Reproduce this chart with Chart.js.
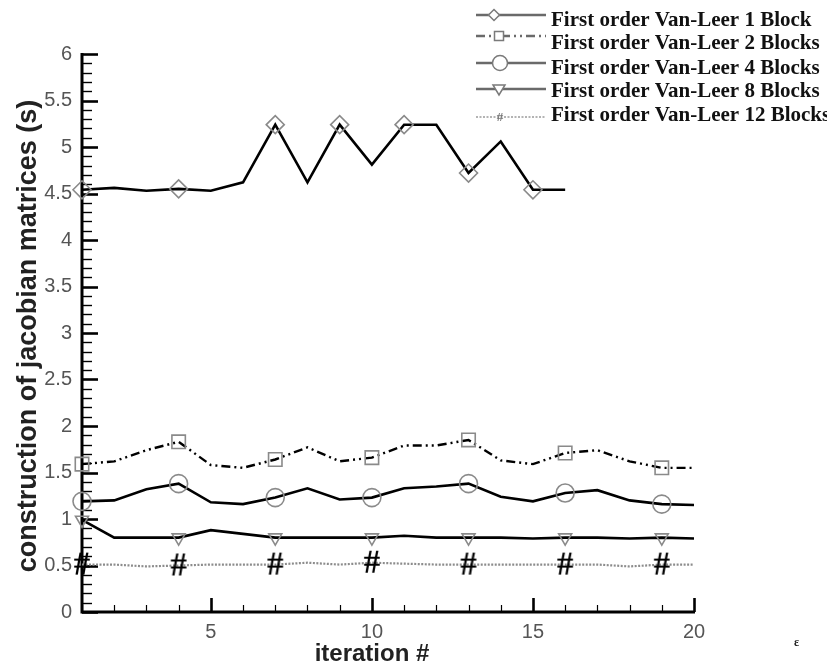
<!DOCTYPE html>
<html><head><meta charset="utf-8">
<script src="https://cdn.jsdelivr.net/npm/chart.js@4/dist/chart.umd.min.js"></script>
<style>html,body{margin:0;padding:0;background:#fff}#wrap{width:827px;height:665px;position:relative}</style>
</head><body><div id="wrap"><canvas id="c" width="827" height="665"></canvas></div>
<script>
// ---- data ----
const iterations = [1,2,3,4,5,6,7,8,9,10,11,12,13,14,15,16,17,18,19,20];
const seriesNames = [
  'First order Van-Leer 1 Block',
  'First order Van-Leer 2 Blocks',
  'First order Van-Leer 4 Blocks',
  'First order Van-Leer 8 Blocks',
  'First order Van-Leer 12 Blocks'
];
const block1  = [4.54,4.56,4.53,4.55,4.53,4.62,5.24,4.62,5.24,4.81,5.24,5.24,4.72,5.06,4.54,4.54];
const block2  = [1.59,1.62,1.74,1.83,1.58,1.55,1.64,1.77,1.62,1.66,1.79,1.79,1.85,1.63,1.59,1.71,1.74,1.62,1.55,1.55];
const block4  = [1.19,1.20,1.32,1.38,1.18,1.16,1.23,1.33,1.21,1.23,1.33,1.35,1.38,1.24,1.19,1.28,1.31,1.20,1.16,1.15];
const block8  = [0.99,0.80,0.80,0.80,0.88,0.84,0.80,0.80,0.80,0.80,0.82,0.80,0.80,0.80,0.79,0.80,0.80,0.79,0.80,0.79];
const block12 = [0.51,0.51,0.49,0.50,0.51,0.51,0.51,0.53,0.51,0.53,0.52,0.51,0.51,0.51,0.51,0.51,0.51,0.49,0.51,0.51];
const markers1Block = [1,4,7,9,11,13,15];
const markersOther  = [1,4,7,10,13,16,19];
const xTicks = [5,10,15,20];
const yTicks = [0,0.5,1,1.5,2,2.5,3,3.5,4,4.5,5,5.5,6];
const xTitle = 'iteration #';
const yTitle = 'construction of jacobian matrices (s)';

// ---- helpers ----
const toPts = arr => arr.map((v,i)=>({x: iterations[i], y: v}));
const markerRadius = (list, r) => ctx => list.includes(iterations[ctx.dataIndex]) ? r : 0;

// '#' marker image
function hashImage(size, color){
  const c = document.createElement('canvas');
  c.width = Math.round(size*0.62); c.height = Math.round(size*0.8);
  const g = c.getContext('2d');
  g.fillStyle = color;
  g.font = 'bold ' + size + 'px "Liberation Serif", "Times New Roman", serif';
  g.textAlign = 'center'; g.textBaseline = 'middle';
  g.fillText('#', c.width/2, c.height/2 + size*0.04);
  return c;
}
const hashImg = hashImage(33, '#000');
const hashImgSmall = hashImage(13, '#777');

const MK = '#8a8a8a';
const base = {fill:false, tension:0, clip:false, pointBorderColor:MK, pointBackgroundColor:'rgba(0,0,0,0)', pointBorderWidth:1.6, pointHoverRadius:0};

const datasets = [
  Object.assign({}, base, {label:seriesNames[0], data:toPts(block1), borderColor:'#000', borderWidth:2.6,
    pointStyle:'rectRot', pointRadius:markerRadius(markers1Block, 9)}),
  Object.assign({}, base, {label:seriesNames[1], data:toPts(block2), borderColor:'#000', borderWidth:2.4,
    borderDash:[9,4,2,4,2,4], pointStyle:'rect', pointRadius:markerRadius(markersOther, 9.5)}),
  Object.assign({}, base, {label:seriesNames[2], data:toPts(block4), borderColor:'#000', borderWidth:2.6,
    pointStyle:'circle', pointRadius:markerRadius(markersOther, 9)}),
  Object.assign({}, base, {label:seriesNames[3], data:toPts(block8), borderColor:'#000', borderWidth:2.6,
    pointStyle:'triangle', pointRotation:180, pointRadius:markerRadius(markersOther, 7.5)}),
  Object.assign({}, base, {label:seriesNames[4], data:toPts(block12), borderColor:'#8c8c8c', borderWidth:2.2,
    borderDash:[2,1.5], pointStyle:hashImg, pointRadius:markerRadius(markersOther, 10)})
];

// axis + inward ticks
const axesPlugin = {
  id:'axesPlugin',
  beforeDatasetsDraw(chart){
    const {ctx, chartArea:a, scales:{x,y}} = chart;
    ctx.save();
    ctx.strokeStyle = '#000';
    ctx.lineCap = 'butt';
    for (let k=0; k<=60; k++){
      const v = k/10;
      const py = Math.round(y.getPixelForValue(v)) + 0.5;
      const major = k % 5 === 0;
      ctx.lineWidth = major ? 2.6 : 1.4;
      ctx.beginPath(); ctx.moveTo(a.left, py); ctx.lineTo(a.left + (major ? 16 : 10), py); ctx.stroke();
    }
    for (let v=1; v<=20; v++){
      const px = Math.round(x.getPixelForValue(v)) + 0.5;
      const major = v % 5 === 0;
      ctx.lineWidth = major ? 2.6 : 1.2;
      ctx.beginPath(); ctx.moveTo(px, a.bottom); ctx.lineTo(px, a.bottom - (major ? 14 : 7)); ctx.stroke();
    }
    ctx.lineWidth = 3;
    ctx.beginPath();
    ctx.moveTo(a.left, a.top - 1); ctx.lineTo(a.left, a.bottom); ctx.lineTo(a.right + 1, a.bottom);
    ctx.stroke();
    ctx.restore();
  }
};

// custom legend + axis titles
const legendPlugin = {
  id:'legendPlugin',
  afterDraw(chart){
    const ctx = chart.ctx;
    const rows = [
      {ly:15, ty:26, mx:494}, {ly:36, ty:49, mx:499}, {ly:63, ty:74, mx:500},
      {ly:89, ty:97, mx:499}, {ly:117, ty:121, mx:500}
    ];
    const x0 = 476, x1 = 546;
    ctx.save();
    rows.forEach((r,i)=>{
      ctx.strokeStyle = i===4 ? '#9a9a9a' : '#6a6a6a';
      ctx.lineWidth = i===4 ? 1.6 : 2.6;
      ctx.setLineDash(i===1 ? [9,4,2,4,2,4] : i===4 ? [2,1.5] : []);
      ctx.beginPath(); ctx.moveTo(x0, r.ly); ctx.lineTo(x1, r.ly); ctx.stroke();
      ctx.setLineDash([]);
      ctx.strokeStyle = '#7a7a7a'; ctx.fillStyle = '#fff'; ctx.lineWidth = 1.5;
      ctx.beginPath();
      if (i===0){ const s=5.5; ctx.moveTo(r.mx, r.ly-s); ctx.lineTo(r.mx+s, r.ly); ctx.lineTo(r.mx, r.ly+s); ctx.lineTo(r.mx-s, r.ly); ctx.closePath(); ctx.fill(); ctx.stroke(); }
      else if (i===1){ ctx.rect(r.mx-4.5, r.ly-4.5, 9, 9); ctx.fill(); ctx.stroke(); }
      else if (i===2){ ctx.arc(r.mx, r.ly, 7.5, 0, Math.PI*2); ctx.fill(); ctx.stroke(); }
      else if (i===3){ ctx.moveTo(r.mx-6, r.ly-4); ctx.lineTo(r.mx+6, r.ly-4); ctx.lineTo(r.mx, r.ly+6); ctx.closePath(); ctx.fill(); ctx.stroke(); }
      else { ctx.drawImage(hashImgSmall, r.mx - hashImgSmall.width/2, r.ly - hashImgSmall.height/2); }
      ctx.fillStyle = '#111';
      ctx.font = 'bold 21px "Liberation Serif", "Times New Roman", serif';
      ctx.textAlign = 'left'; ctx.textBaseline = 'alphabetic';
      ctx.fillText(seriesNames[i], 551, r.ty);
    });
    // axis titles
    ctx.fillStyle = '#222';
    ctx.textAlign = 'center'; ctx.textBaseline = 'alphabetic';
    ctx.font = 'bold 24px "Liberation Sans", Arial, sans-serif';
    ctx.fillText(xTitle, 372, 661);
    ctx.save();
    ctx.translate(36, 336);
    ctx.rotate(-Math.PI/2);
    ctx.font = 'bold 27px "Liberation Sans", Arial, sans-serif';
    ctx.fillText(yTitle, 0, 0);
    ctx.restore();
    ctx.font = 'bold 12px "Liberation Serif", serif';
    ctx.fillStyle = '#222';
    ctx.textAlign = 'left';
    ctx.fillText('ε', 794, 646);
    ctx.restore();
  }
};

new Chart(document.getElementById('c'), {
  type:'line',
  data:{datasets},
  plugins:[axesPlugin, legendPlugin],
  options:{
    responsive:false, animation:false, events:[],
    layout:{padding:{top:54, right:133, left:0, bottom:0}},
    plugins:{legend:{display:false}, tooltip:{enabled:false}},
    scales:{
      x:{type:'linear', min:1, max:20,
        afterBuildTicks:s=>{ s.ticks = xTicks.map(v=>({value:v})); },
        afterFit:s=>{ s.height = 53; },
        grid:{display:false, drawTicks:false}, border:{display:false},
        ticks:{font:{family:'"Liberation Sans", Arial, sans-serif', size:20}, color:'#555', padding:8, maxRotation:0, autoSkip:false}
      },
      y:{type:'linear', min:0, max:6,
        afterBuildTicks:s=>{ s.ticks = yTicks.map(v=>({value:v})); },
        afterFit:s=>{ s.width = 82; },
        grid:{display:false, drawTicks:false}, border:{display:false},
        ticks:{font:{family:'"Liberation Sans", Arial, sans-serif', size:20}, color:'#555', padding:10, autoSkip:false, callback:v=>String(v)}
      }
    }
  }
});
</script></body></html>
